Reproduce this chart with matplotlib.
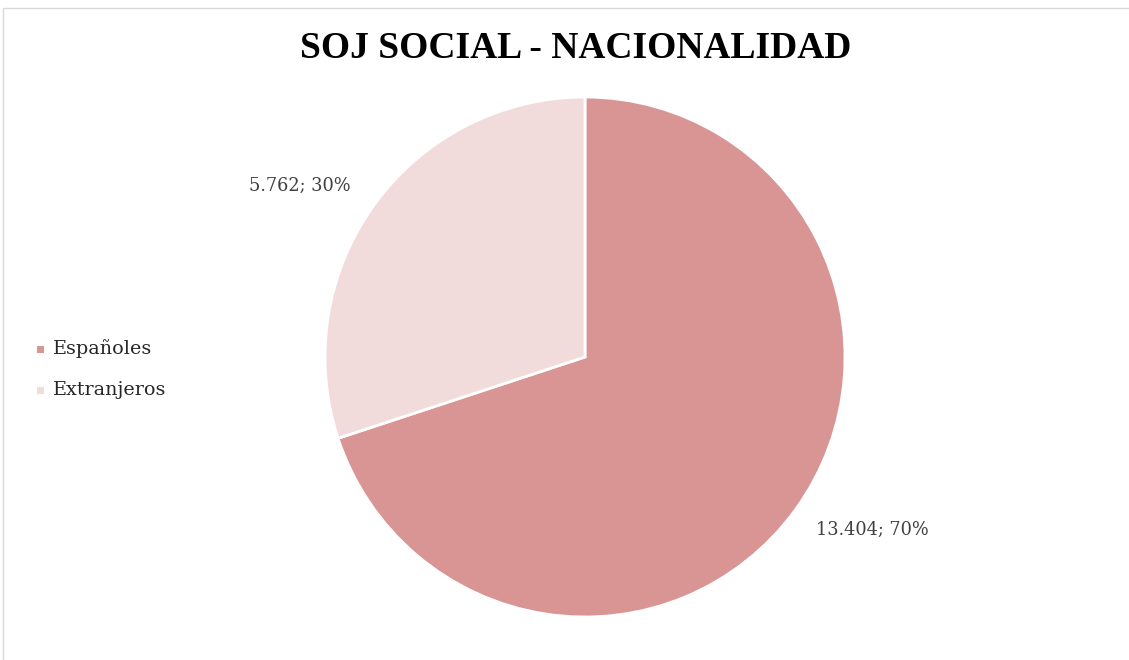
import matplotlib
matplotlib.use("Agg")
import matplotlib.pyplot as plt
from matplotlib.patches import Rectangle

categories = ["Españoles", "Extranjeros"]
values = [13404, 5762]
percent_labels = ["70%", "30%"]
value_labels = ["13.404", "5.762"]
colors = ["#D99594", "#F2DCDB"]

W, H = 1129, 660
fig = plt.figure(figsize=(W / 100, H / 100), dpi=100)
fig.patch.set_facecolor("white")

# border
fig.add_artist(Rectangle((3 / W, -0.1), 1.2, (H - 8) / H + 0.1, transform=fig.transFigure,
                         fill=False, edgecolor="#D9D9D9", linewidth=1.0))

cx, cy, r = 585, 357, 260
ax = fig.add_axes([(cx - r) / W, (H - cy - r) / H, 2 * r / W, 2 * r / H])
wedges, _ = ax.pie(values, colors=colors, startangle=90, counterclock=False,
                   radius=1.0, wedgeprops=dict(edgecolor="white", linewidth=2.0))
ax.set_xlim(-1, 1)
ax.set_ylim(-1, 1)
ax.set_aspect("equal")
ax.axis("off")

title_font = ["Liberation Serif", "DejaVu Serif"]
body_font = ["DejaVu Serif"]
label_pos = [(872, 530), (300, 186)]
for (px, py), v, p in zip(label_pos, value_labels, percent_labels):
    fig.text(px / W, 1 - py / H, f"{v}; {p}", ha="center", va="center",
             fontsize=12.8, color="#404040", family=body_font)

fig.text(576 / W, 1 - 48 / H, "SOJ SOCIAL - NACIONALIDAD", ha="center", va="center",
         fontsize=27, fontweight="bold", color="#000000", family=title_font)

leg_y = [349, 390]
for yy, name, c in zip(leg_y, categories, colors):
    fig.add_artist(Rectangle((37 / W, 1 - (yy + 4) / H), 7 / W, 7 / H,
                             transform=fig.transFigure, facecolor=c, edgecolor="none"))
    fig.text(53 / W, 1 - yy / H, name, ha="left", va="center", fontsize=13.8,
             color="#262626", family=body_font)

fig.savefig("out.png", dpi=100, facecolor="white")
